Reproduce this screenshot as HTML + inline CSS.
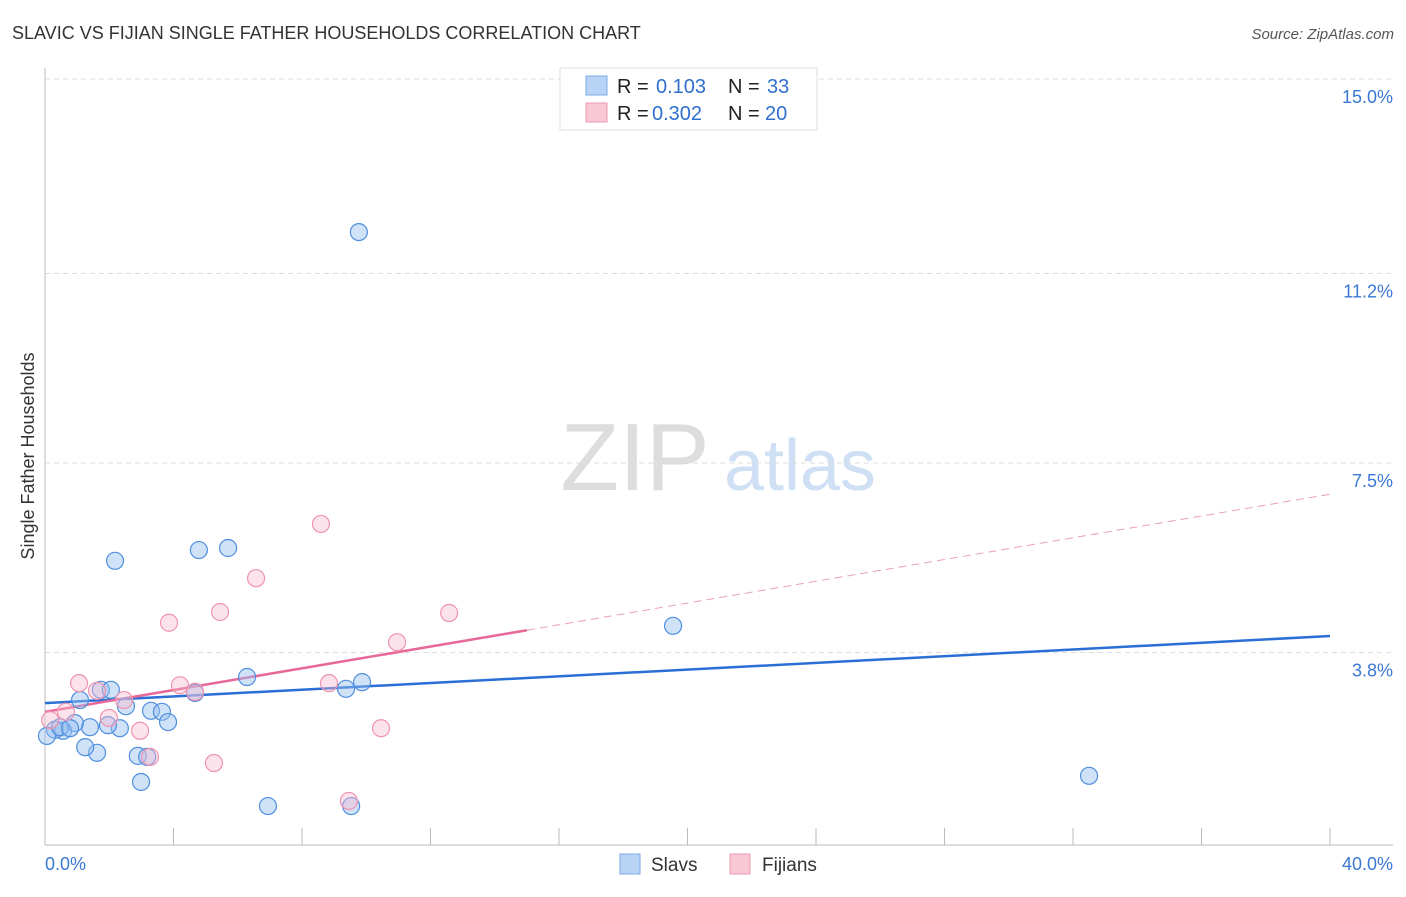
<!DOCTYPE html>
<html><head><meta charset="utf-8"><style>
body{margin:0;background:#fff;font-family:"Liberation Sans",sans-serif;}
svg text{font-family:"Liberation Sans",sans-serif;}
</style></head><body>
<svg id="chart" width="1406" height="892" xmlns="http://www.w3.org/2000/svg">
<text x="12" y="39" font-size="18" fill="#333">SLAVIC VS FIJIAN SINGLE FATHER HOUSEHOLDS CORRELATION CHART</text>
<text x="1394" y="39" font-size="15" fill="#555" text-anchor="end" font-style="italic">Source: ZipAtlas.com</text>
<text x="34" y="456" font-size="18" fill="#333" transform="rotate(-90 34 456)" text-anchor="middle">Single Father Households</text>
<g><text x="635" y="490" font-size="96" fill="#ddd" font-family="Liberation Serif,serif" text-anchor="middle">ZIP</text><text x="800" y="490" font-size="72" fill="#cfe0f5" text-anchor="middle">atlas</text></g>
<g id="grid"></g><g id="axes"></g><g id="lines"></g><g id="points"></g>
<g>
<rect x="560" y="68" width="257" height="62" fill="#fff" stroke="#ddd"/>
<rect x="586" y="76" width="21" height="19" fill="#b9d3f5" stroke="#7aa8e6"/>
<rect x="586" y="103" width="21" height="19" fill="#f9c8d6" stroke="#ee9ab3"/>
<text x="617" y="93" font-size="20" fill="#222">R = </text><text x="656" y="93" font-size="20" fill="#2f6fd0">0.103</text>
<text x="728" y="93" font-size="20" fill="#222">N = </text><text x="767" y="93" font-size="20" fill="#2f6fd0">33</text>
<text x="617" y="120" font-size="20" fill="#222">R = </text><text x="652" y="120" font-size="20" fill="#2f6fd0">0.302</text>
<text x="728" y="120" font-size="20" fill="#222">N = </text><text x="765" y="120" font-size="20" fill="#2f6fd0">20</text>
</g>
<g>
<rect x="620" y="854" width="20" height="20" fill="#b9d3f5" stroke="#7aa8e6"/>
<text x="651" y="871" font-size="19" fill="#333">Slavs</text>
<rect x="730" y="854" width="20" height="20" fill="#f9c8d6" stroke="#ee9ab3"/>
<text x="762" y="871" font-size="19" fill="#333">Fijians</text>
</g>
</svg>
<script>
const yTicks=[3.8,7.5,11.2,15.0];
const yTickLabels=["3.8%","7.5%","11.2%","15.0%"];
const xTicks=[0,4,8,12,16,20,24,28,32,36,40];
const slavX=[2.18,4.79,5.70,9.77,19.55,32.50,6.94,9.53,2.99,1.62,1.25,2.89,3.18,1.09,1.74,2.05,2.52,3.30,3.64,3.83,2.33,1.96,1.40,0.93,0.56,0.31,0.06,0.47,0.78,6.29,9.37,9.87,4.67];
const slavY=[5.59,5.80,5.84,12.01,4.32,1.39,0.80,0.80,1.27,1.84,1.95,1.78,1.76,2.87,3.07,3.07,2.75,2.66,2.64,2.44,2.32,2.38,2.34,2.42,2.27,2.29,2.17,2.34,2.32,3.32,3.09,3.22,3.01];
const fijX=[8.59,6.57,5.45,3.86,12.58,10.96,1.06,4.20,8.84,4.67,2.46,1.99,0.65,2.96,10.46,5.26,3.27,9.46,0.16,1.62];
const fijY=[6.31,5.25,4.59,4.38,4.57,4.00,3.20,3.16,3.20,3.03,2.87,2.52,2.64,2.27,2.32,1.64,1.76,0.90,2.48,3.05];
const slavTrend=[2.81,4.12];
const fijTrend=[2.64,6.89];
const fijSolidEnd=15;
const NS="http://www.w3.org/2000/svg";
const X=v=>45+v*32.125, Y=v=>847-v*51.2;
function mk(p,t,a){const e=document.createElementNS(NS,t);for(const k in a)e.setAttribute(k,a[k]);document.getElementById(p).appendChild(e);return e;}
yTicks.forEach((t,i)=>{
 const l=mk('grid','line',{x1:45,x2:1393,y1:Y(t),y2:Y(t),stroke:'#ddd','stroke-dasharray':'5,4'});
 
 
 const tx=mk('grid','text',{x:1393,y:Y(t)+24,'font-size':18,fill:'#3a78d4','text-anchor':'end'});
 tx.textContent=yTickLabels[i];
 
 
});
const ax=mk('axes','line',{x1:45,x2:45,y1:68,y2:845,stroke:'#bbb'});


const bx=mk('axes','line',{x1:45,x2:1393,y1:845,y2:845,stroke:'#bbb'});


xTicks.forEach(t=>{const l=mk('axes','line',{x1:X(t),x2:X(t),y1:828,y2:845,stroke:'#bbb'});
 
 });
const xl0=mk('axes','text',{x:45,y:870,'font-size':18,fill:'#3a78d4'});xl0.textContent=xTicks[0].toFixed(1)+'%';


const xl1=mk('axes','text',{x:1393,y:870,'font-size':18,fill:'#3a78d4','text-anchor':'end'});xl1.textContent=xTicks[xTicks.length-1].toFixed(1)+'%';


slavX.forEach((x,i)=>{const c=mk('points','circle',{cx:X(x),cy:Y(slavY[i]),r:8.5,fill:'rgba(150,190,240,0.45)',stroke:'#4f8fdf','stroke-width':1.2});
 
 });
fijX.forEach((x,i)=>{const c=mk('points','circle',{cx:X(x),cy:Y(fijY[i]),r:8.5,fill:'rgba(248,185,205,0.4)',stroke:'#ee94b0','stroke-width':1.2});
 
 });
const sl=mk('lines','line',{x1:X(0),y1:Y(slavTrend[0]),x2:X(40),y2:Y(slavTrend[1]),stroke:'#2a6fd6','stroke-width':2.5});


const fy=v=>fijTrend[0]+(fijTrend[1]-fijTrend[0])*v/40;
const fl=mk('lines','line',{x1:X(0),y1:Y(fy(0)),x2:X(fijSolidEnd),y2:Y(fy(fijSolidEnd)),stroke:'#e8689a','stroke-width':2.5});


const fd=mk('lines','line',{x1:X(fijSolidEnd),y1:Y(fy(fijSolidEnd)),x2:X(40),y2:Y(fy(40)),stroke:'#e8a0b8','stroke-width':1,'stroke-dasharray':'8,5'});


</script>
</body></html>
